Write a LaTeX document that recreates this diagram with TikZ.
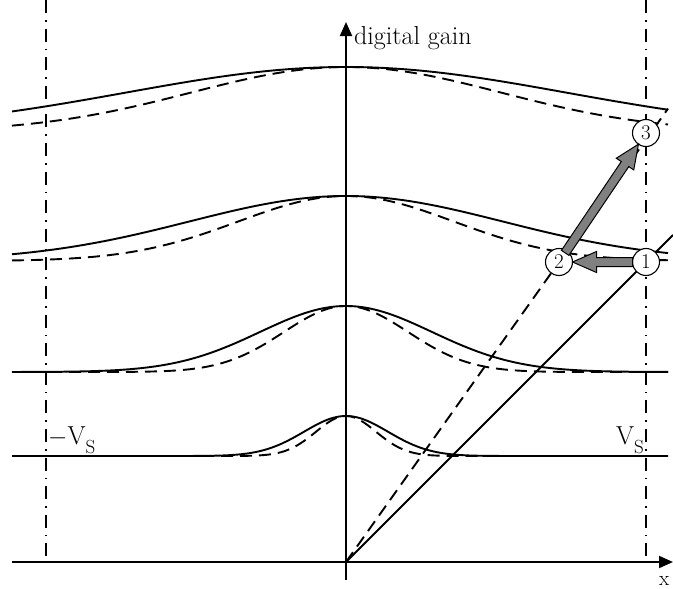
\documentclass[tikz,border=0pt]{standalone}
\usetikzlibrary{arrows.meta,calc}
\newcommand\fatarrowdraw[2]{%
  \coordinate (fa) at (#1);
  \coordinate (fb) at (#2);
  \coordinate (fh) at ($(fb)!24pt!(fa)$);
  \filldraw[fat] ($(fa)!4.5pt!90:(fb)$) -- ($(fh)!4.5pt!90:(fb)$) -- ($(fh)!10.5pt!90:(fb)$) -- (fb)
    -- ($(fh)!10.5pt!-90:(fb)$) -- ($(fh)!4.5pt!-90:(fb)$) -- ($(fa)!4.5pt!-90:(fb)$) -- cycle;
}
\begin{document}
\begin{tikzpicture}[x=1pt,y=-1pt,
  curve/.style={line width=1.9pt},
  dcurve/.style={line width=1.9pt, dash pattern=on 12pt off 7pt},
  axis/.style={line width=1.9pt,-{Triangle[length=14pt,width=12pt]}},
  guide/.style={line width=1.6pt, dash pattern=on 13pt off 7pt on 1.6pt off 7pt},
  circ/.style={circle, draw, line width=1.1pt, fill=white, minimum size=27pt, inner sep=0pt, font=\fontsize{21}{21}\selectfont},
  fat/.style={fill=gray, draw=black, line width=1pt, line join=miter},
  lbl/.style={font=\fontsize{26}{26}\selectfont, inner sep=0pt}]
\useasboundingbox (0,0) rectangle (673,589);

% guides
\draw[guide] (46,0) -- (46,562);
\draw[guide] (646,0) -- (646,562);

% curves: solid Gaussian and narrower dashed one
\draw[curve] plot[domain=12:668, samples=200] (\x, {132-65*exp(-min(0.5*((\x-346)/220)^2,15))});
\draw[dcurve] plot[domain=12:668, samples=200] (\x, {132-65*exp(-min(0.5*((\x-346)/155)^2,15))});
\draw[curve] plot[domain=12:668, samples=200] (\x, {261-65*exp(-min(0.5*((\x-346)/157)^2,15))});
\draw[dcurve] plot[domain=12:668, samples=200] (\x, {261-65*exp(-min(0.5*((\x-346)/108)^2,15))});
\draw[curve] plot[domain=12:668, samples=200] (\x, {372-66*exp(-min(0.5*((\x-346)/86)^2,15))});
\draw[dcurve] plot[domain=12:668, samples=200] (\x, {372-66*exp(-min(0.5*((\x-346)/62)^2,15))});
\draw[curve] plot[domain=12:668, samples=250] (\x, {456-40*exp(-min(0.5*((\x-346)/42)^2,15))});
\draw[dcurve] plot[domain=12:668, samples=250] (\x, {456-40*exp(-min(0.5*((\x-346)/30)^2,15))});

% axes
\coordinate (O) at (346,562);
\coordinate (xs) at (12,562);
\coordinate (xe) at (673,562);
\coordinate (ys) at (346,580);
\coordinate (ye) at (346,22);
\draw[axis] (xs) -- (xe);
\draw[axis] (ys) -- (ye);
\node[lbl, anchor=west] (ylab) at (354,38) {digital gain};
\node[font=\fontsize{21}{21}\selectfont, inner sep=0pt, anchor=west] (xlab) at (659,581) {x};

% diagonals
\coordinate (sd) at (673,235);
\coordinate (dd) at (668,108.6);
\draw[curve] (O) -- (sd);
\draw[dcurve] (O) -- (dd);

% labels
\node[lbl, anchor=west] (mvs) at (48,440) {$-$V\raisebox{-9pt}{\fontsize{19}{19}\selectfont S}};
\node[lbl, anchor=east] (vs) at (644,440) {V\raisebox{-9pt}{\fontsize{19}{19}\selectfont S}};

% circles
\node[circ] (c1) at (646,262) {1};
\node[circ] (c2) at (559,262) {2};
\node[circ] (c3) at (646,133) {3};

% fat arrows
\fatarrowdraw{$(c1)!13.5pt!(c2)$}{$(c2)!13.5pt!(c1)$}
\fatarrowdraw{$(c2)!11pt!(c3)$}{$(c3)!13.5pt!(c2)$}
\end{tikzpicture}
\end{document}
